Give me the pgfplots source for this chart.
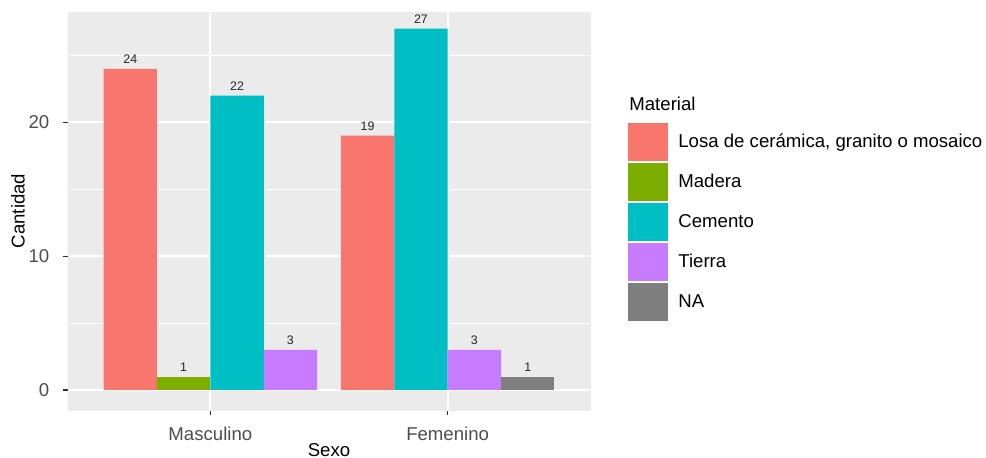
\documentclass[border=0pt]{standalone}
\usepackage{pgfplots}
\pgfplotsset{compat=1.18}
\usepackage{fontspec}
\setmainfont{Liberation Sans}
\definecolor{cLosa}{HTML}{F8766D}
\definecolor{cMadera}{HTML}{7CAE00}
\definecolor{cCemento}{HTML}{00BFC4}
\definecolor{cTierra}{HTML}{C77CFF}
\definecolor{cNA}{HTML}{7F7F7F}
\definecolor{ggbg}{HTML}{EBEBEB}
\definecolor{grey30}{HTML}{4D4D4D}
\definecolor{grey20}{HTML}{333333}
\newcommand\ggfont{\fontsize{9.3}{11}\selectfont}
\pgfplotsset{
  mybar/.style={ybar, bar width=0.225, bar shift=0pt, draw=none, fill=#1,
    nodes near coords,
    nodes near coords style={font=\fontsize{6.2}{7}\selectfont, text=black!85, anchor=south, inner sep=0pt, yshift=2.5pt},
    legend image code/.code={\fill[#1] (0pt,-9.5pt) rectangle (20pt,9.5pt);}},
}
\begin{document}
\begin{tikzpicture}
\path[use as bounding box] (-34pt,-24pt) rectangle (459pt,205pt);
\begin{axis}[
  at={(0,0)}, anchor=south west,
  width=261pt, height=199pt, scale only axis,
  xmin=0.4, xmax=2.6, ymin=-1.5, ymax=28.25,
  xtick={1,2}, xticklabels={Masculino,Femenino},
  ytick={0,10,20}, minor ytick={5,15,25},
  axis background/.style={fill=ggbg},
  axis line style={ggbg, line width=0.1pt},
  grid=both,
  major grid style={white, line width=1pt},
  minor grid style={white, line width=0.5pt},
  tick align=outside, tick pos=left,
  major tick length=2.7pt, minor tick length=0pt,
  major tick style={draw=grey20, line width=0.6pt},
  /pgf/number format/assume math mode=true,
  xticklabel style={font=\ggfont, text=grey30, anchor=center, inner sep=0pt, yshift=-9pt},
  yticklabel style={font=\ggfont, text=grey30, anchor=east, inner sep=0pt, xshift=-6.5pt},
  xlabel={Sexo}, ylabel={Cantidad},
  xlabel style={font=\ggfont, at={(axis description cs:0.5,-0.1005)}, anchor=center, inner sep=0pt},
  ylabel style={font=\ggfont, at={(axis description cs:-0.0958,0.5)}, anchor=center, inner sep=0pt},
  clip=false,
  legend style={at={(1.0728,0.7211)}, anchor=north west, draw=none, fill=none,
    row sep=1pt, column sep=5pt, inner sep=0pt,
    nodes={inner sep=0pt, font=\ggfont, text=black}},
  legend cell align=left,
]
\addplot[mybar=cLosa] coordinates {(0.6625,24) (1.6625,19)};
\addlegendentry{Losa de cerámica, granito o mosaico}
\addplot[mybar=cMadera] coordinates {(0.8875,1)};
\addlegendentry{Madera}
\addplot[mybar=cCemento] coordinates {(1.1125,22) (1.8875,27)};
\addlegendentry{Cemento}
\addplot[mybar=cTierra] coordinates {(1.3375,3) (2.1125,3)};
\addlegendentry{Tierra}
\addplot[mybar=cNA] coordinates {(2.3375,1)};
\addlegendentry{NA}
\end{axis}
\node[anchor=west, inner sep=0pt, font=\ggfont] at (280.5pt,153pt) {Material};
\end{tikzpicture}
\end{document}
